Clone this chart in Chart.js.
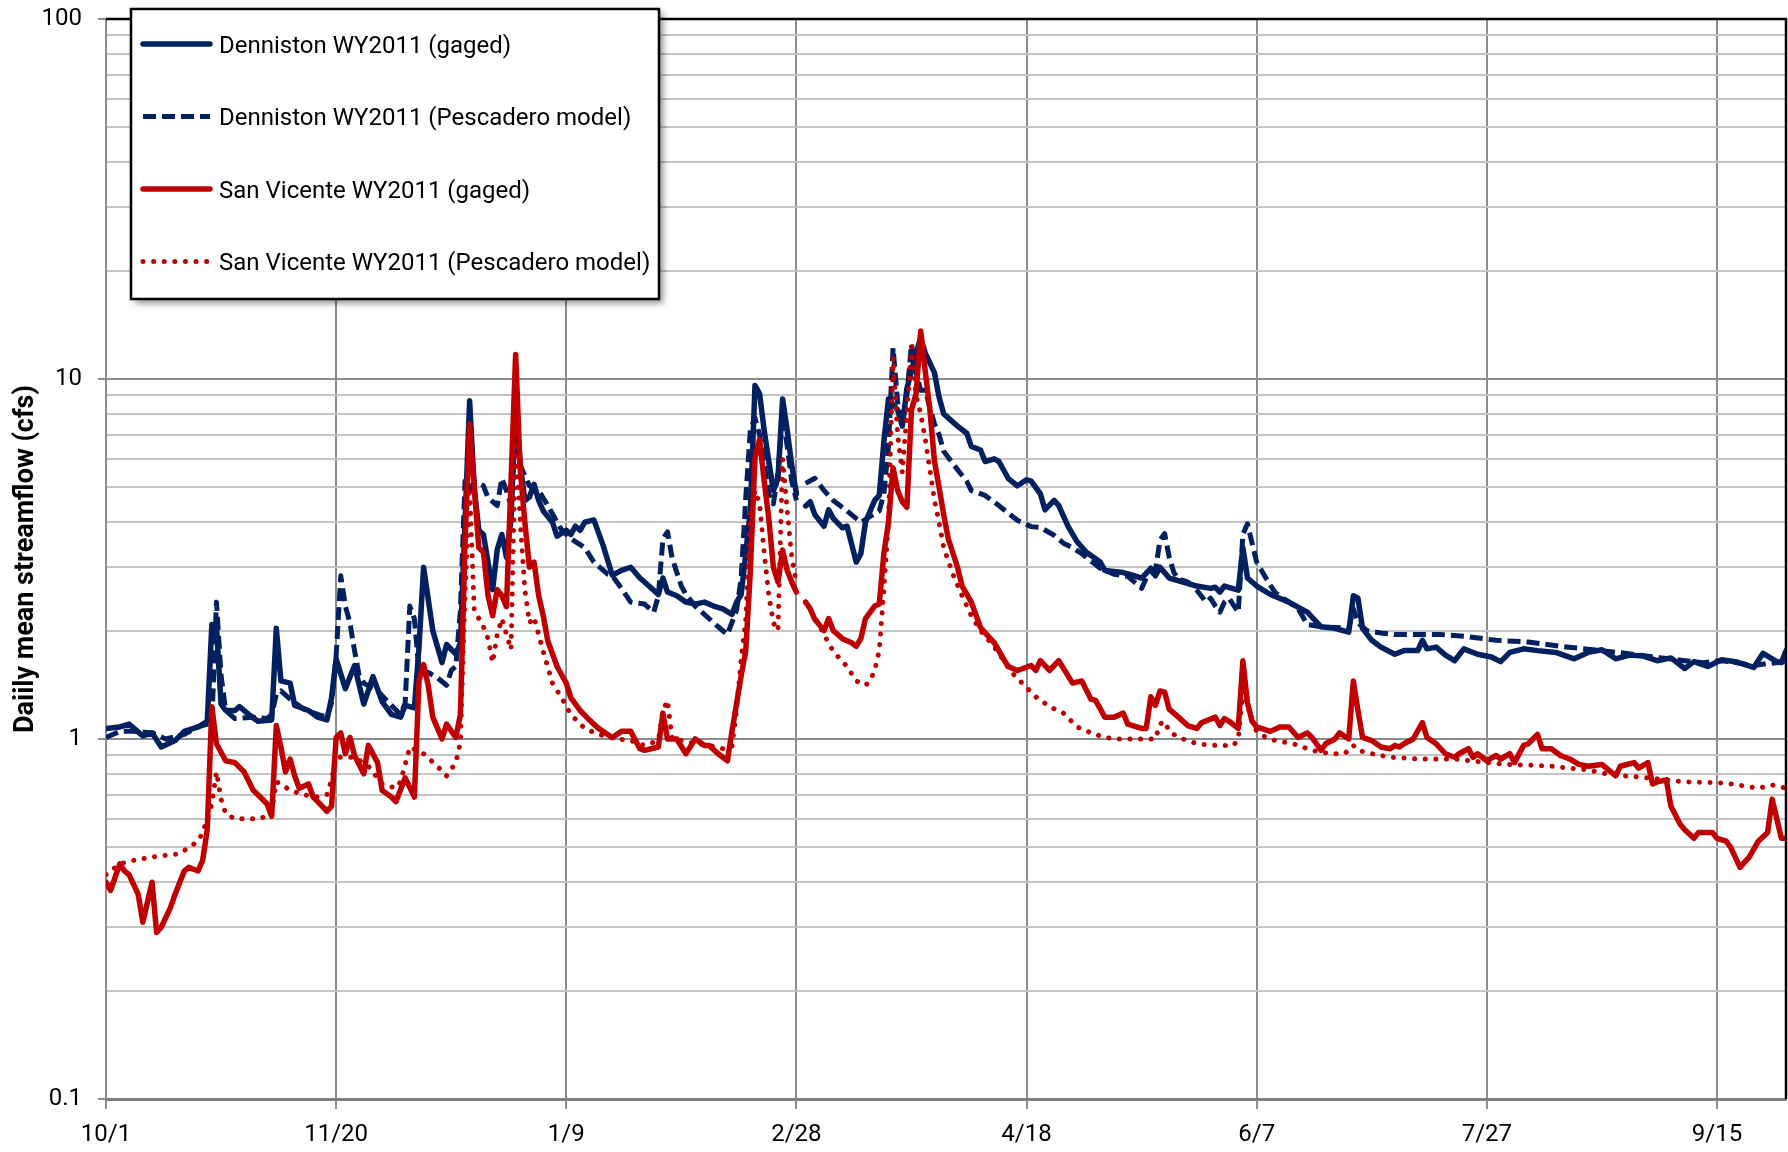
<!DOCTYPE html>
<html>
<head>
<meta charset="utf-8">
<title>Daily mean streamflow WY2011</title>
<script src="https://cdn.jsdelivr.net/npm/chart.js@4.4.0/dist/chart.umd.min.js"></script>
<style>
  html, body { margin: 0; padding: 0; background: #fff; }
  #wrap { width: 1788px; height: 1152px; }
</style>
</head>
<body>
<div id="wrap"><canvas id="flowChart"></canvas></div>
<script>
// x = day of water year (0 = 10/1, 151 = 2/29 placeholder with no data)
const xTickDays = [0, 50, 100, 150, 200, 250, 300, 350];
const xTickLabels = ['10/1', '11/20', '1/9', '2/28', '4/18', '6/7', '7/27', '9/15'];
const yTicks = [0.1, 0.2, 0.3, 0.4, 0.5, 0.6, 0.7, 0.8, 0.9,
                1, 2, 3, 4, 5, 6, 7, 8, 9,
                10, 20, 30, 40, 50, 60, 70, 80, 90, 100];
const yMajor = [0.1, 1, 10, 100];
const yMajorLabels = ['0.1', '1', '10', '100'];

// [day, cfs]
const dennistonGaged = [
  [0,1.07],[3,1.08],[5,1.1],[8,1.02],[10,1.04],[12,0.95],[15,0.99],[17,1.05],[20,1.08],[22,1.12],
  [23,2.08],[24,2.05],[25,1.25],[26,1.2],[28,1.2],[29,1.23],[31,1.17],[33,1.12],[36,1.13],[37,2.03],
  [38,1.45],[40,1.43],[41,1.24],[44,1.2],[46,1.15],[48,1.13],[49,1.3],[50,1.67],[52,1.38],[54,1.6],
  [56,1.25],[58,1.49],[60,1.27],[62,1.17],[64,1.15],[65,1.24],[67,1.22],[68,1.8],[69,3.0],[71,2.0],
  [73,1.63],[74,1.83],[76,1.72],[77,1.85],[78,4.0],[79,8.7],[80,5.0],[81,3.8],[82,3.7],[84,2.6],
  [85,3.36],[86,3.7],[87,3.2],[88,4.1],[89,8.5],[90,5.8],[91,4.6],[92,4.7],[93,5.1],[94,4.6],
  [95,4.3],[97,4.0],[98,3.66],[100,3.8],[101,3.7],[102,3.9],[103,3.8],[104,4.0],[106,4.06],[108,3.45],
  [110,2.85],[112,2.94],[114,3.0],[116,2.8],[117,2.73],[120,2.52],[121,2.8],[122,2.56],[124,2.5],[126,2.4],
  [128,2.37],[130,2.4],[132,2.34],[134,2.3],[136,2.22],[137,2.4],[138,2.52],[139,3.27],[140,4.33],[141,9.6],
  [142,9.1],[143,7.2],[144,5.9],[145,4.9],[146,5.3],[147,8.8],[148,7.2],[149,5.75],[150,4.8],[151,null],
  [152,4.44],[153,4.56],[154,4.2],[156,3.9],[157,4.33],[158,4.1],[160,3.86],[161,3.9],[163,3.1],[164,3.27],
  [165,4.0],[167,4.6],[168,4.75],[169,6.7],[170,8.8],[172,8.2],[173,7.4],[174,9.4],[176,11.8],[177,13.0],
  [178,11.8],[180,10.4],[181,8.9],[182,8.0],[185,7.4],[187,7.07],[188,6.5],[190,6.35],[191,5.9],[193,6.0],
  [194,5.9],[196,5.3],[198,5.05],[200,5.25],[201,5.2],[203,4.8],[204,4.33],[206,4.6],[207,4.45],[209,3.9],
  [211,3.53],[213,3.3],[216,3.1],[217,2.94],[221,2.9],[223,2.85],[225,2.8],[227,2.98],[228,2.84],[229,3.0],
  [231,2.8],[234,2.73],[237,2.66],[240,2.62],[241,2.64],[242,2.56],[243,2.66],[246,2.59],[247,3.4],[248,2.8],
  [250,2.66],[253,2.52],[257,2.4],[261,2.25],[264,2.05],[267,2.03],[270,1.98],[271,2.5],[272,2.46],[273,2.03],
  [275,1.88],[277,1.8],[280,1.72],[282,1.76],[285,1.76],[286,1.88],[287,1.78],[289,1.8],[291,1.71],[293,1.65],
  [295,1.78],[298,1.72],[301,1.69],[303,1.64],[305,1.74],[308,1.78],[311,1.76],[315,1.74],[319,1.67],[322,1.74],
  [325,1.77],[328,1.67],[331,1.71],[334,1.7],[337,1.65],[340,1.68],[343,1.57],[345,1.64],[348,1.59],[351,1.66],
  [354,1.64],[358,1.58],[360,1.73],[363,1.64],[364,1.63],[365,1.76]
];
const dennistonModel = [
  [0,1.01],[3,1.05],[6,1.05],[10,1.04],[13,1.0],[17,1.03],[20,1.08],[23,1.11],[24,2.4],[25,1.5],
  [26,1.2],[28,1.14],[32,1.15],[35,1.14],[36,1.17],[37,1.33],[38,1.36],[40,1.29],[43,1.21],[46,1.17],
  [48,1.15],[49,1.26],[50,1.7],[51,2.84],[52,2.34],[53,2.1],[54,1.76],[55,1.5],[56,1.43],[59,1.36],
  [62,1.24],[64,1.17],[65,1.26],[66,2.34],[67,2.16],[68,1.55],[70,1.53],[72,1.48],[74,1.41],[75,1.55],
  [76,1.59],[77,2.28],[78,5.2],[79,4.9],[80,5.2],[82,5.05],[83,4.68],[85,4.45],[86,5.3],[87,4.9],
  [88,4.45],[89,7.6],[90,5.75],[92,5.05],[94,4.9],[96,4.45],[98,4.0],[99,3.81],[101,3.6],[104,3.4],
  [106,3.1],[109,2.87],[110,2.84],[112,2.62],[114,2.4],[117,2.37],[119,2.25],[120,2.5],[121,3.6],[122,3.76],
  [123,3.18],[125,2.66],[126,2.52],[128,2.34],[130,2.22],[133,2.05],[135,1.95],[137,2.28],[138,2.8],[139,4.68],
  [140,7.25],[141,7.8],[142,7.0],[143,5.8],[144,4.8],[145,4.5],[146,5.5],[147,8.0],[148,6.5],[149,5.2],
  [150,4.6],[151,null],[152,5.13],[154,5.3],[156,4.9],[158,4.6],[161,4.3],[164,4.0],[166,4.15],[168,4.3],
  [169,4.8],[170,6.5],[171,12.2],[172,8.6],[173,7.5],[174,9.0],[175,12.5],[176,10.4],[177,9.3],[178,9.3],
  [180,7.5],[181,7.0],[182,6.3],[185,5.6],[187,5.2],[188,4.9],[191,4.75],[194,4.45],[198,4.05],[201,3.89],
  [203,3.87],[206,3.68],[208,3.5],[210,3.4],[212,3.27],[216,2.98],[219,2.87],[222,2.83],[225,2.62],[226,2.8],
  [228,2.94],[229,3.57],[230,3.72],[231,3.2],[232,2.9],[233,2.78],[235,2.73],[237,2.59],[239,2.4],[240,2.46],
  [241,2.34],[242,2.25],[243,2.4],[244,2.46],[246,2.25],[247,3.7],[248,3.96],[249,3.5],[250,3.1],[252,2.8],
  [254,2.55],[257,2.4],[259,2.3],[261,2.08],[264,2.05],[267,2.04],[270,2.03],[271,2.3],[272,2.1],[274,2.0],
  [277,1.97],[280,1.95],[290,1.95],[295,1.93],[302,1.88],[309,1.86],[316,1.81],[323,1.77],[330,1.73],[338,1.68],
  [343,1.65],[347,1.63],[351,1.65],[354,1.63],[358,1.6],[361,1.62],[365,1.64]
];
const sanVicenteGaged = [
  [0,0.4],[1,0.38],[3,0.45],[4,0.43],[5,0.42],[7,0.37],[8,0.31],[10,0.4],[11,0.29],[12,0.3],
  [14,0.34],[15,0.37],[17,0.43],[18,0.44],[20,0.43],[21,0.46],[22,0.56],[23,1.23],[24,0.97],[26,0.87],
  [28,0.86],[30,0.81],[32,0.72],[33,0.7],[35,0.66],[36,0.61],[37,1.09],[38,0.95],[39,0.81],[40,0.88],
  [41,0.79],[42,0.73],[44,0.75],[45,0.69],[46,0.67],[48,0.63],[49,0.65],[50,1.01],[51,1.04],[52,0.91],
  [53,1.01],[54,0.9],[56,0.8],[57,0.96],[59,0.86],[60,0.72],[62,0.69],[63,0.67],[65,0.78],[67,0.69],
  [68,1.45],[69,1.61],[70,1.41],[71,1.15],[73,1.0],[74,1.1],[76,1.01],[77,1.17],[78,3.5],[79,7.5],
  [80,5.0],[81,3.4],[82,3.3],[83,2.5],[84,2.2],[85,2.6],[86,2.5],[87,2.33],[89,11.7],[90,5.6],
  [91,4.0],[92,3.0],[93,3.1],[94,2.5],[95,2.2],[96,1.87],[98,1.59],[100,1.43],[101,1.3],[103,1.2],
  [105,1.13],[107,1.07],[110,1.01],[112,1.05],[114,1.05],[116,0.94],[117,0.93],[120,0.95],[121,1.18],[122,1.0],
  [124,1.0],[126,0.91],[128,1.0],[130,0.96],[131,0.96],[133,0.91],[135,0.87],[136,1.05],[138,1.5],[139,1.76],
  [140,2.94],[141,6.05],[142,6.8],[143,5.2],[144,4.1],[145,3.0],[146,2.73],[147,3.35],[148,2.94],[149,2.73],
  [150,2.56],[151,null],[152,2.4],[153,2.3],[154,2.15],[156,2.0],[157,2.16],[158,2.0],[160,1.9],[162,1.85],
  [163,1.81],[164,1.9],[165,2.16],[167,2.34],[168,2.37],[169,3.27],[170,4.0],[171,5.67],[172,4.9],[173,4.56],
  [174,4.4],[175,8.2],[176,9.1],[177,13.6],[178,10.5],[179,8.2],[180,5.9],[181,5.0],[182,4.2],[183,3.6],
  [185,3.0],[186,2.66],[188,2.4],[190,2.04],[193,1.85],[195,1.67],[196,1.59],[198,1.55],[201,1.6],[202,1.55],
  [203,1.65],[205,1.55],[207,1.65],[210,1.43],[212,1.45],[214,1.29],[215,1.28],[217,1.15],[219,1.15],[221,1.18],
  [222,1.1],[225,1.07],[226,1.07],[227,1.31],[228,1.24],[229,1.36],[230,1.35],[231,1.21],[233,1.15],[235,1.09],
  [237,1.07],[238,1.11],[241,1.15],[242,1.09],[243,1.14],[244,1.12],[246,1.07],[247,1.65],[248,1.26],[249,1.12],
  [250,1.08],[253,1.05],[255,1.08],[257,1.08],[259,1.01],[261,1.04],[262,1.01],[264,0.93],[265,0.97],[267,1.0],
  [268,1.04],[270,1.0],[271,1.45],[272,1.2],[273,1.01],[275,0.99],[277,0.95],[279,0.94],[280,0.96],[281,0.95],
  [282,0.97],[284,1.0],[286,1.11],[287,1.01],[289,0.97],[291,0.91],[293,0.89],[294,0.91],[296,0.94],[297,0.89],
  [298,0.91],[300,0.87],[302,0.9],[303,0.88],[305,0.91],[306,0.86],[308,0.96],[309,0.97],[311,1.03],[312,0.94],
  [314,0.94],[316,0.9],[318,0.88],[320,0.85],[322,0.84],[325,0.85],[328,0.79],[329,0.84],[332,0.86],[333,0.83],
  [335,0.86],[336,0.75],[337,0.76],[339,0.77],[340,0.65],[342,0.58],[343,0.56],[345,0.53],[346,0.55],[349,0.55],
  [350,0.53],[352,0.52],[353,0.5],[355,0.44],[357,0.47],[359,0.52],[361,0.55],[362,0.68],[364,0.53],[365,0.53]
];
const sanVicenteModel = [
  [0,0.42],[3,0.45],[6,0.46],[10,0.47],[16,0.48],[18,0.5],[20,0.52],[21,0.55],[22,0.6],[23,0.66],
  [24,0.81],[25,0.68],[26,0.62],[28,0.6],[33,0.6],[35,0.61],[36,0.63],[37,0.76],[38,0.75],[40,0.72],
  [43,0.7],[46,0.69],[48,0.7],[49,0.77],[50,0.89],[52,0.89],[54,0.89],[57,0.84],[60,0.75],[63,0.73],
  [64,0.76],[66,0.95],[69,0.91],[72,0.84],[74,0.79],[76,0.86],[77,0.98],[78,2.5],[79,5.0],[80,2.28],
  [81,2.16],[82,2.05],[83,1.9],[84,1.63],[85,1.95],[86,2.16],[88,1.77],[89,7.0],[90,4.0],[91,2.6],
  [92,2.1],[93,2.18],[94,1.95],[95,1.75],[97,1.43],[99,1.3],[101,1.17],[104,1.07],[107,1.03],[111,1.0],
  [114,0.99],[117,0.96],[120,0.99],[121,1.2],[122,1.28],[123,1.0],[125,0.99],[128,0.97],[131,0.96],[134,0.94],
  [136,0.95],[137,1.2],[138,1.67],[139,2.15],[140,4.2],[141,4.9],[142,4.5],[143,3.3],[144,2.5],[145,2.1],
  [146,2.0],[147,6.0],[148,4.3],[149,3.2],[150,2.7],[151,null],[152,2.4],[153,2.3],[156,1.95],[158,1.75],
  [161,1.59],[163,1.45],[165,1.41],[166,1.45],[167,1.55],[168,1.76],[169,2.6],[170,4.0],[171,11.5],[172,7.0],
  [173,5.5],[174,8.0],[175,12.3],[176,9.0],[177,8.0],[178,6.8],[179,5.6],[180,4.6],[181,4.0],[182,3.4],
  [184,2.87],[186,2.5],[188,2.2],[190,2.0],[193,1.8],[197,1.52],[200,1.39],[202,1.31],[205,1.23],[208,1.18],
  [211,1.08],[214,1.04],[217,1.01],[220,1.0],[226,1.0],[228,1.0],[229,1.1],[230,1.12],[231,1.05],[233,1.01],
  [237,0.97],[241,0.96],[245,0.96],[246,1.0],[247,1.36],[248,1.25],[249,1.12],[250,1.05],[252,1.01],[254,0.99],
  [258,0.97],[262,0.93],[266,0.91],[269,0.91],[270,0.93],[271,0.96],[272,0.93],[275,0.91],[279,0.89],[285,0.88],
  [293,0.88],[300,0.86],[304,0.85],[310,0.845],[314,0.84],[318,0.83],[322,0.82],[326,0.8],[330,0.79],[335,0.78],
  [339,0.77],[343,0.76],[348,0.758],[352,0.754],[356,0.74],[359,0.73],[362,0.745],[365,0.73]
];

const navy = '#002060';
const red = '#c00000';
const toPoints = arr => arr.map(p => ({ x: p[0], y: p[1] }));
const isMajor = v => yMajor.indexOf(v) !== -1;

// plot frame (top/right) and the boxed legend drawn like the Excel original
const frameAndLegend = {
  id: 'frameAndLegend',
  afterDatasetsDraw(chart) {
    const { ctx, chartArea: a } = chart;
    ctx.save();
    ctx.strokeStyle = '#000';
    ctx.lineWidth = 2.5;
    ctx.beginPath();
    ctx.moveTo(a.left, a.top);
    ctx.lineTo(a.right, a.top);
    ctx.lineTo(a.right, a.bottom);
    ctx.stroke();
    ctx.restore();
  },
  afterDraw(chart) {
    const ctx = chart.ctx;
    const bx = 131, by = 9, bw = 528, bh = 290;
    ctx.save();
    ctx.shadowColor = 'rgba(0,0,0,0.45)';
    ctx.shadowBlur = 7;
    ctx.shadowOffsetX = 4;
    ctx.shadowOffsetY = 4;
    ctx.fillStyle = '#fff';
    ctx.fillRect(bx, by, bw, bh);
    ctx.restore();

    ctx.save();
    ctx.strokeStyle = '#000';
    ctx.lineWidth = 2.5;
    ctx.strokeRect(bx, by, bw, bh);
    ctx.font = '24px Roboto';
    ctx.textBaseline = 'alphabetic';
    chart.data.datasets.forEach((ds, i) => {
      const cy = 44 + i * 72.5;
      ctx.beginPath();
      ctx.strokeStyle = ds.borderColor;
      ctx.lineWidth = ds.borderWidth;
      ctx.lineCap = ds.borderCapStyle;
      ctx.setLineDash(ds.borderDash);
      ctx.moveTo(143, cy);
      ctx.lineTo(210, cy);
      ctx.stroke();
      ctx.setLineDash([]);
      ctx.fillStyle = '#000';
      ctx.fillText(ds.label, 219, cy + 8.5);
    });
    ctx.restore();
  }
};

const ctxFlow = document.getElementById('flowChart').getContext('2d');
const flowChart = new Chart(ctxFlow, {
  type: 'line',
  data: {
    datasets: [{
      label: 'Denniston WY2011 (gaged)',
      data: toPoints(dennistonGaged),
      borderColor: navy, borderWidth: 5.5, borderDash: [], borderCapStyle: 'round',
      order: 3
    }, {
      label: 'Denniston WY2011 (Pescadero model)',
      data: toPoints(dennistonModel),
      borderColor: navy, borderWidth: 5, borderDash: [13, 6], borderCapStyle: 'butt',
      order: 2
    }, {
      label: 'San Vicente WY2011 (gaged)',
      data: toPoints(sanVicenteGaged),
      borderColor: red, borderWidth: 5.5, borderDash: [], borderCapStyle: 'round',
      order: 1
    }, {
      label: 'San Vicente WY2011 (Pescadero model)',
      data: toPoints(sanVicenteModel),
      borderColor: red, borderWidth: 5, borderDash: [0.1, 10.5], borderCapStyle: 'round',
      order: 0
    }]
  },
  options: {
    responsive: true,
    maintainAspectRatio: false,
    animation: false,
    layout: { padding: { top: 19, right: 2, left: 0, bottom: 0 } },
    elements: {
      point: { radius: 0, hoverRadius: 0 },
      line: { tension: 0, borderJoinStyle: 'round', fill: false }
    },
    plugins: {
      legend: { display: false },
      tooltip: { enabled: false }
    },
    scales: {
      x: {
        type: 'linear',
        min: 0,
        max: 365,
        afterBuildTicks: s => { s.ticks = xTickDays.map(v => ({ value: v })); },
        afterFit: s => { s.height = 53; },
        grid: { color: '#8c8c8c', lineWidth: 2, tickLength: 10, tickColor: '#8c8c8c' },
        border: { color: '#808080', width: 3 },
        ticks: {
          autoSkip: false,
          maxRotation: 0,
          padding: 12,
          color: '#000',
          font: { family: 'Roboto', size: 24 },
          callback: v => xTickLabels[xTickDays.indexOf(v)]
        }
      },
      y: {
        type: 'logarithmic',
        min: 0.1,
        max: 100,
        afterBuildTicks: s => { s.ticks = yTicks.map(v => ({ value: v })); },
        afterFit: s => { s.width = 106; s.paddingTop = 0; s.paddingBottom = 0; },
        grid: {
          lineWidth: 2,
          tickLength: 8,
          color: c => (c.tick && isMajor(c.tick.value)) ? '#8c8c8c' : '#c4c4c4',
          tickColor: c => (c.tick && isMajor(c.tick.value)) ? '#8c8c8c' : 'rgba(0,0,0,0)'
        },
        border: { color: '#8c8c8c', width: 2 },
        ticks: {
          autoSkip: false,
          padding: 16,
          color: '#000',
          font: { family: 'Roboto', size: 24 },
          callback: v => isMajor(v) ? yMajorLabels[yMajor.indexOf(v)] : ''
        },
        title: {
          display: true,
          text: 'Daiily mean streamflow (cfs)',
          color: '#000',
          font: { family: 'Roboto', size: 27, weight: 'bold' },
          padding: { top: 10, bottom: 0 }
        }
      }
    }
  },
  plugins: [frameAndLegend]
});
</script>
</body>
</html>
